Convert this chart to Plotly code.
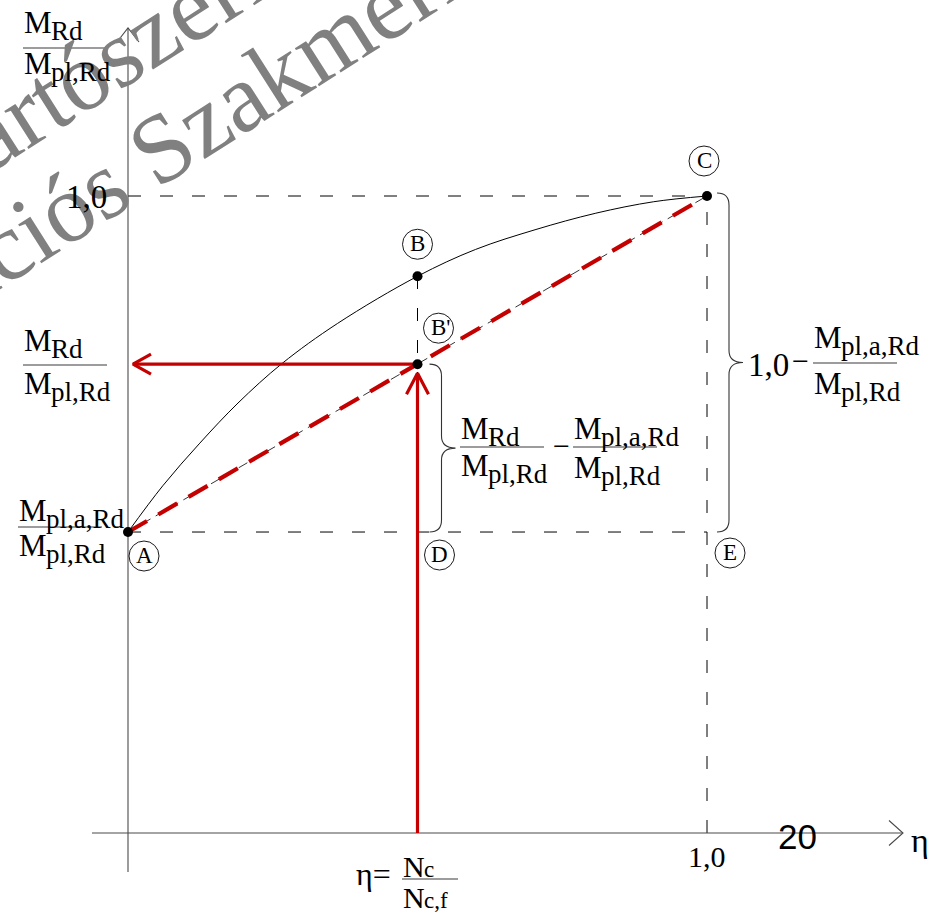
import plotly.graph_objects as go

W, H = 946, 917
SERIF = "Liberation Serif"
SANS = "Liberation Sans"
RED = "#C40000"

# ---- diagram values: eta on the horizontal axis, M_Rd / M_pl,Rd on the vertical axis
ratio_a = 0.4725            # M_pl,a,Rd / M_pl,Rd  (point A, eta = 0)
eta_mid = 0.5               # eta of points B, B', D
m_B = 0.874                 # interaction curve at eta_mid
m_Bp = 0.736                # linear interpolation at eta_mid
eta_full = 1.0              # point C / E
m_full = 1.0

curve_eta = [0.0, 0.06, 0.124, 0.19, 0.266, 0.362, 0.5, 0.6, 0.703, 0.808, 0.908, 1.0]
curve_m = [0.4725, 0.545, 0.612, 0.675, 0.737, 0.800, 0.874, 0.916, 0.947, 0.973, 0.991, 1.0]

dot_names = ["A", "B", "B'", "C"]
dot_eta = [0.0, 0.5, 0.5, 1.0]
dot_m = [0.4725, 0.874, 0.736, 1.0]

circle_names = ["A", "B", "B'", "C", "D", "E"]
circle_eta = [0.0, 0.5, 0.5, 1.0, 0.5, 1.0]
circle_m = [0.4725, 0.874, 0.736, 1.0, 0.4725, 0.4725]

tick_labels = ["1,0", "1,0", "20"]

# ---- scale: pixels per unit and origin position on the canvas
X0_PX, Y0_PX = 128, 833
SX, SY = 579.0, 637.0


def dx(px):
    return px / SX


def dy(px):
    return px / SY


x_range = [-X0_PX / SX, (W - X0_PX) / SX]
y_range = [-(H - Y0_PX) / SY, Y0_PX / SY]

fig = go.Figure()


def line(xs, ys, color="black", width=1.0, dash=None, shape="linear"):
    fig.add_trace(go.Scatter(x=xs, y=ys, mode="lines", hoverinfo="skip",
                             line=dict(color=color, width=width, dash=dash, shape=shape)))


# construction lines
GDASH = "13px,19px"
line([0, eta_full], [m_full, m_full], dash=GDASH)
line([0, eta_full], [ratio_a, ratio_a], dash=GDASH)
line([eta_full, eta_full], [0, m_full], dash=GDASH)
line([eta_mid, eta_mid], [0, m_B], dash=GDASH)
line([0, eta_full], [ratio_a, m_full], width=0.8, dash="10px,6px")

# axes with open arrowheads
axis_col = "#4a4a4a"
line([dx(-36), dx(775)], [0, 0], color=axis_col, width=1.1)
line([dx(761), dx(775), dx(761)], [dy(12.5), 0, -dy(12.5)], color=axis_col, width=1.1)
line([0, 0], [-dy(39), dy(805)], color=axis_col, width=1.1)
line([-dx(11), 0, dx(11)], [dy(791), dy(805), dy(791)], color=axis_col, width=1.1)

# interaction curve
line(curve_eta, curve_m, width=1.0, shape="spline")

# red linear interpolation and reading arrows
line([0, eta_full], [ratio_a, m_full], color=RED, width=4.2, dash="22px,13px")
line([eta_mid, eta_mid], [0, m_Bp - dy(9)], color=RED, width=3.2)
line([eta_mid - dx(11), eta_mid, eta_mid + dx(11)],
     [m_Bp - dy(30), m_Bp - dy(9), m_Bp - dy(30)], color=RED, width=3.2)
line([eta_mid, dx(5)], [m_Bp, m_Bp], color=RED, width=3.2)
line([dx(23), dx(5), dx(23)], [m_Bp + dy(10), m_Bp, m_Bp - dy(10)], color=RED, width=3.2)

# points
fig.add_trace(go.Scatter(x=dot_eta, y=dot_m, mode="markers", hoverinfo="skip",
                         text=dot_names, marker=dict(color="black", size=10)))

shapes = []
annotations = []

# watermark
for txt, cx, cy in [("Tartószerkezeti", 179, 14), ("Konstrukciós Szakmérnöki", 126, 170)]:
    annotations.append(dict(text=txt, x=cx / W, y=1 - cy / H, xref="paper", yref="paper",
                            showarrow=False, textangle=-32.5, xanchor="center", yanchor="middle",
                            font=dict(family=SERIF, size=98, color="#808080")))

# circled point names
circle_offsets = {"A": (16, 24), "B": (0, -32), "B'": (21, -36),
                  "C": (-3, -35), "D": (22, 23), "E": (23, 21)}
R = 15
for name, ex, em in zip(circle_names, circle_eta, circle_m):
    ox, oy = circle_offsets[name]
    shapes.append(dict(type="circle", xref="x", yref="y", xsizemode="pixel", ysizemode="pixel",
                       xanchor=ex, yanchor=em, x0=ox - R, x1=ox + R, y0=-oy - R, y1=-oy + R,
                       line=dict(color="black", width=0.9)))
    annotations.append(dict(text=name, x=ex, y=em, xref="x", yref="y", showarrow=False,
                            xshift=ox + (2 if name == "B'" else 0), yshift=-oy + 1,
                            xanchor="center", yanchor="middle", borderpad=0,
                            font=dict(family=SERIF, size=23, color="black")))


# braces
def brace(x_px_off, eta, y_top, y_bot, tip=26, r=12):
    x0 = eta + dx(x_px_off)
    xs = x0 + dx(r)
    xt = x0 + dx(tip)
    ym = (y_top + y_bot) / 2
    ry = dy(r)
    path = (f"M{x0},{y_top} Q{xs},{y_top} {xs},{y_top - ry} L{xs},{ym + ry} "
            f"Q{xs},{ym} {xt},{ym} Q{xs},{ym} {xs},{ym - ry} L{xs},{y_bot + ry} "
            f"Q{xs},{y_bot} {x0},{y_bot}")
    shapes.append(dict(type="path", xref="x", yref="y", path=path,
                       line=dict(color="#333333", width=1.1)))


brace(12, eta_mid, m_Bp, ratio_a)
brace(10, eta_full, m_full + dy(3), ratio_a)


# text helpers (pixel placement on the canvas, by baseline)
def text(px, base, txt, size, anchor="left", family=SERIF):
    annotations.append(dict(text=txt, x=px / W, y=1 - (base - 0.3 * size) / H,
                            xref="paper", yref="paper", showarrow=False, borderpad=0,
                            xanchor=anchor, yanchor="middle",
                            font=dict(family=family, size=size, color="black")))


def minus(cx, cy, size=30):
    text(cx, cy + 0.25 * size, "\u2212", size, anchor="center")


MAIN, SUB, DROP = 31, 27, 7
ADV = {"M": 0.889, "N": 0.722}


def symbol(px, base, main, sub, main_size=MAIN, sub_size=SUB, drop=DROP):
    text(px, base, main, main_size)
    text(px + ADV[main] * main_size - 1, base + drop, sub, sub_size)


def frac(x_left, bar_y, bar_len, num, den, num_base, den_base, **kw):
    shapes.append(dict(type="line", xref="paper", yref="paper",
                       x0=x_left / W, x1=(x_left + bar_len) / W,
                       y0=1 - bar_y / H, y1=1 - bar_y / H,
                       line=dict(color="#3a3a3a", width=1.1)))
    symbol(x_left, num_base, *num, **kw)
    symbol(x_left, den_base, *den, **kw)


M_RD = ("M", "Rd")
M_PL = ("M", "pl,Rd")
M_PLA = ("M", "pl,a,Rd")

frac(23, 48, 84, M_RD, M_PL, 32, 73)
frac(23, 365, 84, M_RD, M_PL, 350, 393)
frac(18, 527, 84, M_PLA, M_PL, 520, 555)
frac(460, 447, 84, M_RD, M_PL, 438, 475)
minus(561, 447)
frac(573, 447, 84, M_PLA, M_PL, 438, 477)
text(747, 375, "1,0", 33)
minus(800, 362)
frac(813, 363, 84, M_PLA, M_PL, 347, 393)

# axis texts
annotations.append(dict(text=tick_labels[0], x=0, y=m_full, xref="x", yref="y", showarrow=False,
                        xanchor="right", yanchor="middle", xshift=-20, yshift=-1, borderpad=0,
                        font=dict(family=SERIF, size=33, color="black")))
annotations.append(dict(text=tick_labels[1], x=eta_full, y=0, xref="x", yref="y", showarrow=False,
                        xanchor="center", yanchor="top", yshift=-6, borderpad=0,
                        font=dict(family=SERIF, size=30, color="black")))
text(797, 847, tick_labels[2], 35, anchor="center", family=SANS)
text(910, 851, "η", 34)
text(355, 884, "η=", 32)
frac(402, 879, 56, ("N", "c"), ("N", "c,f"), 875, 906, main_size=30, sub_size=23, drop=1)

fig.update_layout(
    width=W, height=H, margin=dict(l=0, r=0, t=0, b=0),
    paper_bgcolor="white", plot_bgcolor="white", showlegend=False,
    xaxis=dict(range=x_range, visible=False, fixedrange=True),
    yaxis=dict(range=y_range, visible=False, fixedrange=True),
    shapes=shapes, annotations=annotations,
)

fig.write_html("out.html", config={"displayModeBar": False})
